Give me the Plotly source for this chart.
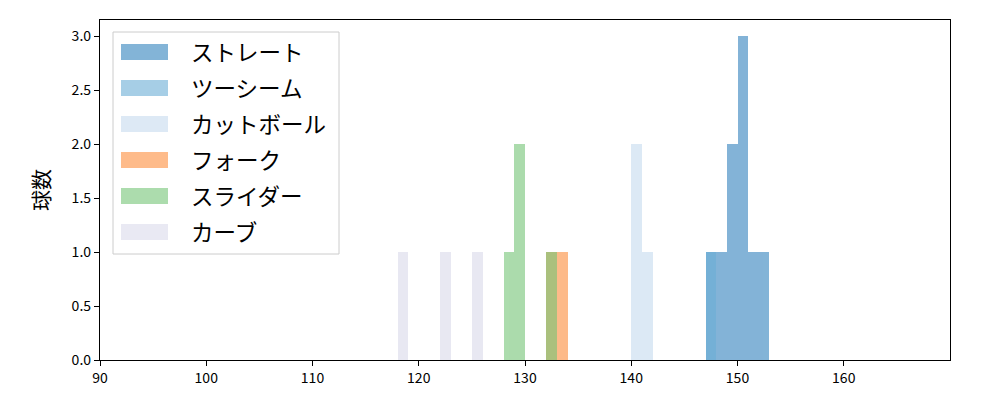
import plotly.graph_objects as go

# Data: histogram bin left edges (km/h) and counts per pitch type
pitch_types = ["ストレート", "ツーシーム", "カットボール", "フォーク", "スライダー", "カーブ"]
straight_bins = [147, 148, 149, 150, 151, 152]
straight_counts = [1, 1, 2, 3, 1, 1]
twoseam_bins = [147]
twoseam_counts = [1]
cutter_bins = [140, 141]
cutter_counts = [2, 1]
fork_bins = [132, 133]
fork_counts = [1, 1]
slider_bins = [128, 129, 132]
slider_counts = [1, 2, 1]
curve_bins = [118, 122, 125]
curve_counts = [1, 1, 1]

colors = ["#3182bd", "#6baed6", "#c6dbef", "#fd8d3c", "#74c476", "#dadaeb"]
series = [
    (straight_bins, straight_counts),
    (twoseam_bins, twoseam_counts),
    (cutter_bins, cutter_counts),
    (fork_bins, fork_counts),
    (slider_bins, slider_counts),
    (curve_bins, curve_counts),
]

x_ticks = [90, 100, 110, 120, 130, 140, 150, 160]
y_ticks = [0.0, 0.5, 1.0, 1.5, 2.0, 2.5, 3.0]

FONT = "Noto Sans CJK JP"
fig = go.Figure()
for name, (bins, counts), c in zip(pitch_types, series, colors):
    fig.add_trace(go.Bar(
        x=bins, y=counts, name=name, offset=0, width=1,
        marker=dict(color=c, line=dict(width=0)), opacity=0.6,
        showlegend=False,
    ))

# Plot area on screen (reference pixels): x 100..950, y 20..360
L, R, T, B = 100, 950, 20, 360
W, H = R - L, B - T
OFF = 8  # page body margin offset
def px(x):
    return (x - L) / W
def py(y):
    return (B - y) / H

shapes = []
annotations = []
# legend box
shapes.append(dict(type="rect", xref="paper", yref="paper",
                   x0=px(113), x1=px(339), y0=py(254), y1=py(32),
                   line=dict(color="#cccccc", width=1), fillcolor="rgba(255,255,255,0.8)",
                   layer="above"))
for i, (name, c) in enumerate(zip(pitch_types, colors)):
    cy = 52 + 36 * i
    shapes.append(dict(type="rect", xref="paper", yref="paper",
                       x0=px(121), x1=px(168), y0=py(cy + 8), y1=py(cy - 8),
                       line=dict(width=0), fillcolor=c, opacity=0.6, layer="above"))
    annotations.append(dict(xref="paper", yref="paper", x=px(189), y=py(cy - 1),
                            xanchor="left", yanchor="middle", text=name, showarrow=False,
                            font=dict(family=FONT, size=22.5, color="black")))

fig.update_layout(
    width=1000, height=400,
    margin=dict(l=L - OFF, r=1000 - R + OFF, t=T - OFF, b=400 - B + OFF, autoexpand=False),
    paper_bgcolor="white", plot_bgcolor="white",
    barmode="overlay", bargap=0,
    font=dict(family=FONT, size=14, color="black"),
    shapes=shapes, annotations=annotations,
    showlegend=False,
)
fig.update_xaxes(range=[90, 170], tickvals=x_ticks, ticks="outside", ticklen=5,
                 tickwidth=1.2, tickcolor="black", showline=True, linecolor="black",
                 linewidth=1.3, mirror=True, showgrid=False, zeroline=False,
                 tickfont=dict(size=14), automargin=False)
fig.update_yaxes(range=[0, 3.15], tickvals=y_ticks, tickformat=".1f", ticks="outside",
                 ticklen=5, tickwidth=1.2, tickcolor="black", showline=True,
                 linecolor="black", linewidth=1.3, mirror=True, showgrid=False,
                 zeroline=False, tickfont=dict(size=14), automargin=False,
                 title=dict(text="球数", font=dict(size=21), standoff=16))

fig.write_html("out.html")
